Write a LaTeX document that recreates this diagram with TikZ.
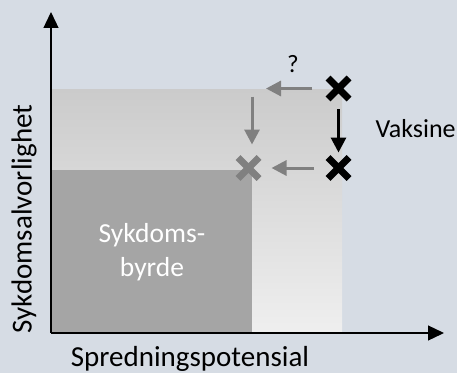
\documentclass[tikz,border=0pt]{standalone}
\usepackage{fontspec}
\setmainfont{Carlito}
\usetikzlibrary{arrows.meta,shapes.misc}

\definecolor{bakgrunn}{HTML}{D6DCE4}
\definecolor{byrdegraa}{HTML}{A5A5A5}
\definecolor{toppgraa}{HTML}{CBCBCB}
\definecolor{bunngraa}{HTML}{EFEFEF}
\definecolor{pilgraa}{HTML}{808080}

\tikzset{
  kryss/.style={cross out, draw, line width=7pt, minimum size=14pt, inner sep=0pt},
  pil/.style={line width=3pt, -{Triangle[width=15pt,length=15pt]}},
  akse/.style={line width=1.3pt, -{Triangle[width=15pt,length=16pt]}},
}

\begin{document}
\begin{tikzpicture}[x=1pt, y=1pt, line join=round]
  \fill[bakgrunn] (0,0) rectangle (457,373);
  \useasboundingbox (0,0) rectangle (457,373);
  \coordinate (O) at (51,40);
  % feltene
  \shade[top color=toppgraa, bottom color=bunngraa] (O) rectangle (342,284);
  \fill[byrdegraa] (O) rectangle (252,203);
  \node[white, align=center, font=\fontsize{27.5}{34}\selectfont] (byrde) at (152,121) {Sykdoms-\\byrde};
  % aksene
  \draw[akse] (O) -- (51,361);
  \draw[akse] (O) -- (444,40);
  \node[rotate=90, font=\fontsize{29}{34}\selectfont] (ylab) at (24,154) {Sykdomsalvorlighet};
  \node[anchor=base, font=\fontsize{29}{34}\selectfont] (xlab) at (190,7) {Spredningspotensial};
  % kryssene
  \node[kryss] (hoy) at (338.5,284.5) {};
  \node[kryss] (lav) at (338.5,205) {};
  \node[kryss, pilgraa] (ny) at (248.5,205) {};
  \coordinate (hjorne) at (252,284.5);
  % pilene
  \draw[pil, shorten <=10pt, shorten >=5pt] (hoy.south) -- (lav.north);
  \draw[pil, pilgraa, shorten <=16pt, shorten >=14pt] (hoy.west) -- (hjorne);
  \draw[pil, pilgraa, shorten <=8pt, shorten >=13pt] (hjorne) -- (hjorne |- ny.north);
  \draw[pil, pilgraa, shorten <=14pt, shorten >=12.5pt] (lav.west) -- (ny.east);
  \node[anchor=base, font=\fontsize{25}{30}\selectfont] (spm) at (293,301) {?};
  \node[anchor=base west, font=\fontsize{26}{30}\selectfont] (vaksine) at (372,236) {Vaksine};
\end{tikzpicture}
\end{document}
